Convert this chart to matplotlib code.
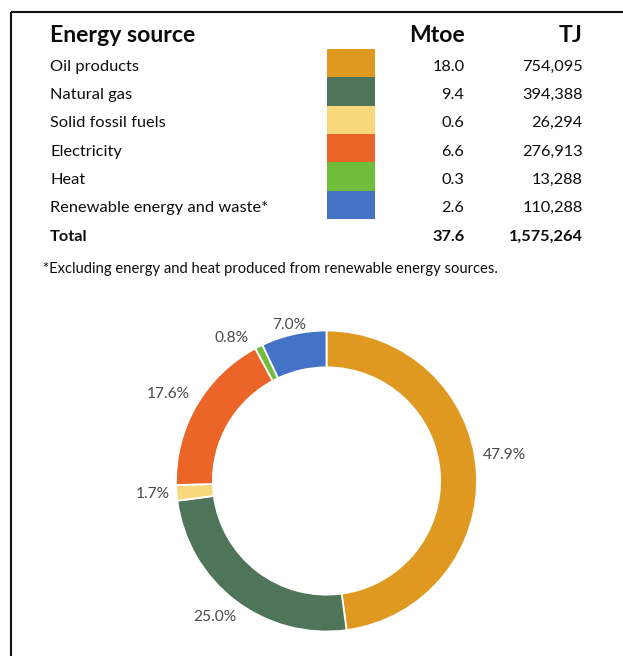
import matplotlib
matplotlib.use('Agg')
import matplotlib.pyplot as plt
from matplotlib.patches import Rectangle
import numpy as np

# ---- data ----
sources = ["Oil products", "Natural gas", "Solid fossil fuels", "Electricity",
           "Heat", "Renewable energy and waste*"]
mtoe = [18.0, 9.4, 0.6, 6.6, 0.3, 2.6]
tj = [754095, 394388, 26294, 276913, 13288, 110288]
total_mtoe = 37.6
total_tj = 1575264
colors = ["#DF9920", "#4E7559", "#F7D87A", "#EC6528", "#70BD3B", "#4472C4"]
header = ["Energy source", "Mtoe", "TJ"]
footnote = "*Excluding energy and heat produced from renewable energy sources."

# label nudges (pixels, +x right, +y down) relative to radial placement
label_nudge = [(-1, -15), (-3, -8), (5, -3), (-3, 1), (-14, 16), (2, 17)]

plt.rcParams['font.family'] = ['Lato', 'DejaVu Sans']

W, H = 623, 656
fig = plt.figure(figsize=(W / 100, H / 100), dpi=100)
fig.patch.set_facecolor('white')

ax = fig.add_axes([0, 0, 1, 1])
ax.set_xlim(0, W)
ax.set_ylim(H, 0)
ax.axis('off')

txt = '#0d0d0d'
# frame lines
ax.plot([11, W + 5], [12, 12], color='#111111', lw=1.5, solid_capstyle='butt')
ax.plot([11, 11], [12, H + 5], color='#111111', lw=1.5, solid_capstyle='butt')

x_name, x_sw0, x_sw1, x_mtoe, x_tj = 50, 327.3, 374.7, 464.5, 582.7
row0, rowh = 49.0, 28.33
fs_head, fs_row, fs_note, fs_lab = 16.6, 11.8, 10.6, 11.2

# header
ax.text(x_name, 41.7, header[0], fontsize=fs_head, fontweight='bold', color=txt, va='baseline', ha='left')
ax.text(x_mtoe, 41.7, header[1], fontsize=fs_head, fontweight='bold', color=txt, va='baseline', ha='right')
ax.text(x_tj, 41.7, header[2], fontsize=fs_head, fontweight='bold', color=txt, va='baseline', ha='right')

for i, (s, m, t, c) in enumerate(zip(sources, mtoe, tj, colors)):
    top = row0 + i * rowh
    base = top + rowh / 2 + 7.5
    ax.add_patch(Rectangle((x_sw0, top), x_sw1 - x_sw0, rowh, facecolor=c, edgecolor='none'))
    ax.text(x_name, base, s, fontsize=fs_row, color=txt, va='baseline', ha='left')
    ax.text(x_mtoe, base, f"{m:.1f}", fontsize=fs_row, color=txt, va='baseline', ha='right')
    ax.text(x_tj, base, f"{t:,}", fontsize=fs_row, color=txt, va='baseline', ha='right')

base = row0 + 6 * rowh + rowh / 2 + 7.5
ax.text(x_name, base, "Total", fontsize=fs_row, fontweight='bold', color=txt, va='baseline', ha='left')
ax.text(x_mtoe, base, f"{total_mtoe:.1f}", fontsize=fs_row, fontweight='bold', color=txt, va='baseline', ha='right')
ax.text(x_tj, base, f"{total_tj:,}", fontsize=fs_row, fontweight='bold', color=txt, va='baseline', ha='right')

ax.text(43.3, 273.3, footnote, fontsize=fs_note, color=txt, va='baseline', ha='left')

# ---- donut ----
R, cx, cy = 150.5, 326.5, 481.0
L = 1.35
S = 2 * L * R
axp = fig.add_axes([(cx - S / 2) / W, (H - cy - S / 2) / H, S / W, S / H])
axp.patch.set_alpha(0)
wedges, _ = axp.pie(tj, colors=colors, startangle=90, counterclock=False, radius=1,
                    wedgeprops=dict(width=0.245, edgecolor='white', linewidth=1.3))
axp.set_xlim(-L, L)
axp.set_ylim(-L, L)
axp.set_aspect('equal')
axp.axis('off')

tot = sum(tj)
for w, v, (nx, ny) in zip(wedges, tj, label_nudge):
    th = np.deg2rad((w.theta1 + w.theta2) / 2)
    px = cx + 1.19 * R * np.cos(th) + nx
    py = cy - 1.19 * R * np.sin(th) + ny + 5.4
    axp.text((px - cx) / R, (cy - py) / R, f"{100 * v / tot:.1f}%", fontsize=fs_lab,
             color='#4a4a4a', ha='center', va='baseline')

fig.savefig('out.png', dpi=100, facecolor='white')
